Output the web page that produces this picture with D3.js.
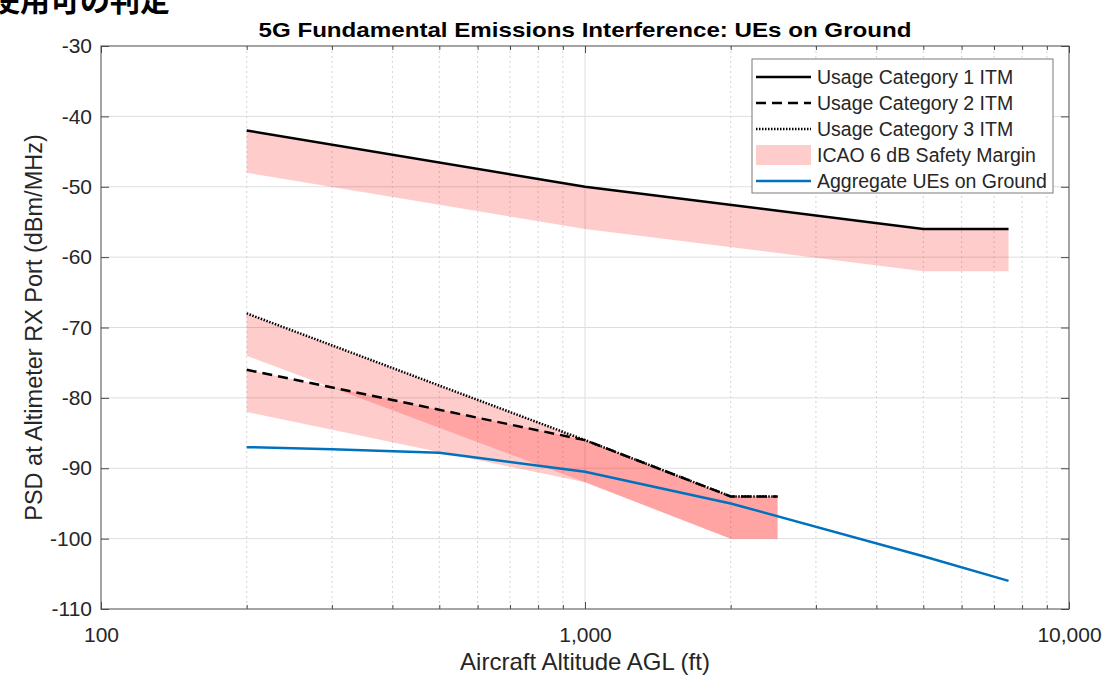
<!DOCTYPE html>
<html>
<head>
<meta charset="utf-8">
<script src="https://cdn.jsdelivr.net/npm/d3@7"></script>
<style>
  html, body { margin: 0; padding: 0; background: #fff; }
  svg { display: block; font-family: "Liberation Sans", Arial, sans-serif; }
</style>
</head>
<body>
<svg id="chart" width="1102" height="676"></svg>
<script>
// ---- data ----
const altCat1 = [200, 1000, 5000, 7500];
const psdCat1 = [-42, -50, -56, -56];
const bandCat1Low = [-48, -56, -62, -62];

const altCat23 = [200, 1000, 2000, 2500];
const psdCat2 = [-76, -86, -94, -94];
const bandCat2Low = [-82, -92, -100, -100];
const psdCat3 = [-68, -86, -94, -94];
const bandCat3Low = [-74, -92, -100, -100];

const altUE = [200, 300, 500, 1000, 2000, 5000, 7500];
const psdUE = [-87, -87.3, -87.8, -90.5, -95, -102.5, -106];

const xTickValues = [100, 1000, 10000];
const xTickLabels = ["100", "1,000", "10,000"];
const xMinorTicks = [200, 300, 400, 500, 600, 700, 800, 900, 2000, 3000, 4000, 5000, 6000, 7000, 8000, 9000];
const yTickValues = [-110, -100, -90, -80, -70, -60, -50, -40, -30];
const yTickLabels = ["-110", "-100", "-90", "-80", "-70", "-60", "-50", "-40", "-30"];

const legendLabels = ["Usage Category 1 ITM", "Usage Category 2 ITM", "Usage Category 3 ITM", "ICAO 6 dB Safety Margin", "Aggregate UEs on Ground"];

const titleText = "5G Fundamental Emissions Interference: UEs on Ground";
const headerText = "使用可の判定";
const xLabelText = "Aircraft Altitude AGL (ft)";
const yLabelText = "PSD at Altimeter RX Port (dBm/MHz)";

// ---- layout ----
const L = 101, R = 1069, T = 46, B = 609;
const svg = d3.select("#chart");

const x = d3.scaleLog().domain([100, 10000]).range([L, R]);
const y = d3.scaleLinear().domain([-110, -30]).range([B, T]);

const axisColor = "#4a4a4a";
const textColor = "#262626";

// header (cut-off Japanese text)
svg.append("text")
  .attr("x", 170).attr("y", 11)
  .attr("text-anchor", "end")
  .attr("font-family", "'Noto Sans CJK JP', sans-serif")
  .attr("font-weight", "bold")
  .attr("font-size", 30)
  .attr("fill", "#000")
  .text(headerText);

// grid
const g = svg.append("g");
g.selectAll(".ygrid").data(yTickValues.slice(1, -1)).enter().append("line")
  .attr("x1", L).attr("x2", R)
  .attr("y1", d => y(d)).attr("y2", d => y(d))
  .attr("stroke", "#dedede").attr("stroke-width", 1);
g.selectAll(".xminor").data(xMinorTicks).enter().append("line")
  .attr("x1", d => x(d)).attr("x2", d => x(d))
  .attr("y1", T).attr("y2", B)
  .attr("stroke", "#d4d4d4").attr("stroke-width", 1)
  .attr("stroke-dasharray", "2,3");
g.selectAll(".xgrid").data([1000]).enter().append("line")
  .attr("x1", d => x(d)).attr("x2", d => x(d))
  .attr("y1", T).attr("y2", B)
  .attr("stroke", "#dedede").attr("stroke-width", 1);

// bands
const area = d3.area()
  .x(d => x(d.a)).y0(d => y(d.lo)).y1(d => y(d.hi));
function bandData(alts, hi, lo) {
  return alts.map((a, i) => ({ a: a, hi: hi[i], lo: lo[i] }));
}
const bands = [
  bandData(altCat1, psdCat1, bandCat1Low),
  bandData(altCat23, psdCat2, bandCat2Low),
  bandData(altCat23, psdCat3, bandCat3Low)
];
svg.append("g").selectAll("path").data(bands).enter().append("path")
  .attr("d", area)
  .attr("fill", "#ff0000").attr("fill-opacity", 0.2).attr("stroke", "none");

// lines
const line = d3.line().x(d => x(d[0])).y(d => y(d[1]));
const zip = (a, b) => a.map((v, i) => [v, b[i]]);

svg.append("path").datum(zip(altCat23, psdCat3)).attr("d", line)
  .attr("fill", "none").attr("stroke", "#000").attr("stroke-width", 2.5)
  .attr("stroke-dasharray", "1.5,1.5");
svg.append("path").datum(zip(altCat23, psdCat2)).attr("d", line)
  .attr("fill", "none").attr("stroke", "#000").attr("stroke-width", 2.5)
  .attr("stroke-dasharray", "10,6");
svg.append("path").datum(zip(altCat1, psdCat1)).attr("d", line)
  .attr("fill", "none").attr("stroke", "#000").attr("stroke-width", 2.5);
svg.append("path").datum(zip(altUE, psdUE)).attr("d", line)
  .attr("fill", "none").attr("stroke", "#0072BD").attr("stroke-width", 2.5);

// axes box
svg.append("rect").attr("x", L).attr("y", T).attr("width", R - L).attr("height", B - T)
  .attr("fill", "none").attr("stroke", axisColor).attr("stroke-width", 1);

// ticks (inward) using d3 axes
const axB = svg.append("g").attr("transform", `translate(0,${B})`)
  .call(d3.axisBottom(x).tickValues(xTickValues).tickSize(-7).tickFormat((d, i) => xTickLabels[i]).tickPadding(18));
axB.select(".domain").remove();
axB.selectAll("line").attr("stroke", axisColor);
axB.selectAll("text").attr("font-size", 21).attr("fill", textColor).attr("font-family", "'Liberation Sans', Arial, sans-serif");

const axBm = svg.append("g").attr("transform", `translate(0,${B})`)
  .call(d3.axisBottom(x).tickValues(xMinorTicks).tickSize(-4).tickFormat(""));
axBm.select(".domain").remove();
axBm.selectAll("line").attr("stroke", axisColor);

const axT = svg.append("g").attr("transform", `translate(0,${T})`)
  .call(d3.axisTop(x).tickValues(xTickValues).tickSize(-7).tickFormat(""));
axT.select(".domain").remove();
axT.selectAll("line").attr("stroke", axisColor);
const axTm = svg.append("g").attr("transform", `translate(0,${T})`)
  .call(d3.axisTop(x).tickValues(xMinorTicks).tickSize(-4).tickFormat(""));
axTm.select(".domain").remove();
axTm.selectAll("line").attr("stroke", axisColor);

const axL = svg.append("g").attr("transform", `translate(${L},0)`)
  .call(d3.axisLeft(y).tickValues(yTickValues).tickSize(-8).tickPadding(9)
    .tickFormat((d, i) => yTickLabels[i]));
axL.select(".domain").remove();
axL.selectAll("line").attr("stroke", axisColor);
axL.selectAll("text").attr("font-size", 21).attr("fill", textColor).attr("font-family", "'Liberation Sans', Arial, sans-serif");

const axR = svg.append("g").attr("transform", `translate(${R},0)`)
  .call(d3.axisRight(y).tickValues(yTickValues).tickSize(-8).tickFormat(""));
axR.select(".domain").remove();
axR.selectAll("line").attr("stroke", axisColor);

// title
svg.append("text")
  .attr("x", (L + R) / 2).attr("y", 37)
  .attr("text-anchor", "middle")
  .attr("font-weight", "bold").attr("font-size", 21)
  .attr("textLength", 653).attr("lengthAdjust", "spacingAndGlyphs")
  .attr("fill", "#000")
  .text(titleText);

// axis labels
svg.append("text")
  .attr("x", (L + R) / 2).attr("y", 670)
  .attr("text-anchor", "middle")
  .attr("font-size", 24).attr("fill", textColor)
  .text(xLabelText);

svg.append("text")
  .attr("transform", `translate(42,${(T + B) / 2}) rotate(-90)`)
  .attr("text-anchor", "middle")
  .attr("font-size", 23.5).attr("fill", textColor)
  .text(yLabelText);

// legend
const lg = svg.append("g");
lg.append("rect").attr("x", 752).attr("y", 59).attr("width", 301).attr("height", 134)
  .attr("fill", "#fff").attr("stroke", "#7a7a7a").attr("stroke-width", 1);
const rowY = [77, 103, 129, 155, 181];
const styles = [
  { type: "line", color: "#000", dash: null },
  { type: "line", color: "#000", dash: "10,6" },
  { type: "line", color: "#000", dash: "1.5,1.5" },
  { type: "patch" },
  { type: "line", color: "#0072BD", dash: null }
];
legendLabels.forEach((lab, i) => {
  const s = styles[i];
  if (s.type === "line") {
    lg.append("line").attr("x1", 756).attr("x2", 811).attr("y1", rowY[i]).attr("y2", rowY[i])
      .attr("stroke", s.color).attr("stroke-width", 2.5)
      .attr("stroke-dasharray", s.dash);
  } else {
    lg.append("rect").attr("x", 756).attr("y", rowY[i] - 10).attr("width", 55).attr("height", 20)
      .attr("fill", "#ff0000").attr("fill-opacity", 0.2);
  }
  lg.append("text").attr("x", 817).attr("y", rowY[i]).attr("dy", "0.35em")
    .attr("font-size", 19.5).attr("fill", textColor).text(lab);
});
</script>
</body>
</html>
